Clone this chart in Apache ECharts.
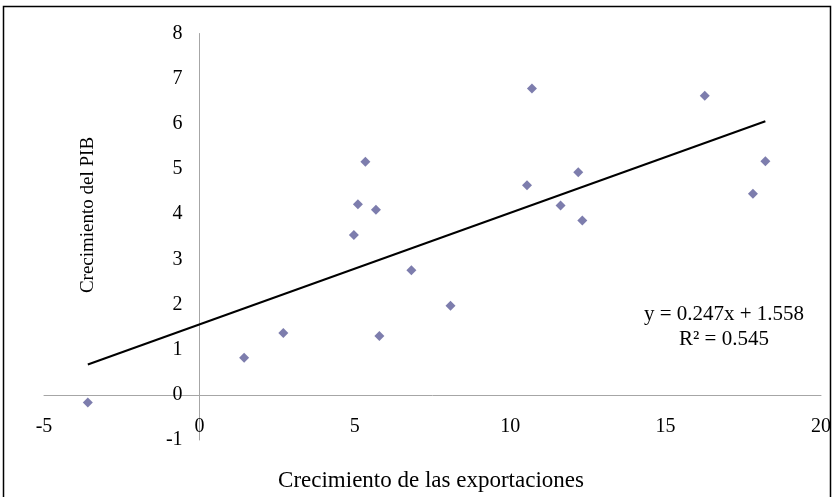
<!DOCTYPE html>
<html>
<head>
<meta charset="utf-8">
<script src="https://cdn.jsdelivr.net/npm/echarts@6/dist/echarts.min.js"></script>
<style>
  html, body { margin: 0; padding: 0; background: #fff; }
  #chart { width: 834px; height: 497px; }
</style>
</head>
<body>
<div id="chart"></div>
<script>
// Export growth (x) vs GDP growth (y), one point per observation
const exportGrowth = [-3.59, 1.44, 2.70, 4.97, 5.10, 5.34, 5.68, 5.79, 6.82, 8.08,
                      10.54, 10.70, 11.62, 12.19, 12.32, 16.26, 17.81, 18.21];
const gdpGrowth    = [-0.17, 0.82, 1.37, 3.54, 4.22, 5.16, 4.10, 1.30, 2.76, 1.97,
                      4.64, 6.78, 4.19, 4.93, 3.86, 6.62, 4.45, 5.17];

// Linear trend fitted to the data
const trendSlope = 0.247;
const trendIntercept = 1.558;
const rSquared = 0.545;

// Axis ranges and tick steps
const xRange = [-5, 20];
const xStep = 5;
const yRange = [-1, 8];
const yStep = 1;

const xAxisTitle = 'Crecimiento de las exportaciones';
const yAxisTitle = 'Crecimiento del PIB';

const points = exportGrowth.map((x, i) => [x, gdpGrowth[i]]);
const xMin = Math.min(...exportGrowth);
const xMax = Math.max(...exportGrowth);
const trendLine = [
  [xMin, trendSlope * xMin + trendIntercept],
  [xMax, trendSlope * xMax + trendIntercept]
];

// Plot area, in pixels
const W = 834, H = 497;
const gridBox = { left: 44, right: 12, top: 33.5, bottom: 57 };
const plotW = W - gridBox.left - gridBox.right;
const plotH = H - gridBox.top - gridBox.bottom;

// Both axes cross at zero: shift each axis (line and labels) inward from the grid edge
const xAxisShift = -((0 - yRange[0]) / (yRange[1] - yRange[0])) * plotH;
const yAxisShift = -((0 - xRange[0]) / (xRange[1] - xRange[0])) * plotW;

const fontFamily = '"Liberation Serif", "Times New Roman", serif';
const chart = echarts.init(document.getElementById('chart'), null, { renderer: 'canvas' });

chart.setOption({
  animation: false,
  backgroundColor: '#ffffff',
  textStyle: { fontFamily: fontFamily },
  grid: Object.assign({ containLabel: false }, gridBox),
  xAxis: {
    type: 'value',
    min: xRange[0], max: xRange[1], interval: xStep,
    offset: xAxisShift,
    axisLine: { show: true, onZero: false, lineStyle: { color: '#a6a6a6', width: 1 } },
    axisTick: { show: false },
    splitLine: { show: false },
    axisLabel: { color: '#000', fontSize: 20, fontFamily: fontFamily, margin: 22 }
  },
  yAxis: {
    type: 'value',
    min: yRange[0], max: yRange[1], interval: yStep,
    offset: yAxisShift,
    axisLine: { show: true, onZero: false, lineStyle: { color: '#a6a6a6', width: 1 } },
    axisTick: { show: false },
    splitLine: { show: false },
    axisLabel: { color: '#000', fontSize: 20, fontFamily: fontFamily, margin: 17 }
  },
  series: [
    {
      type: 'scatter',
      data: points,
      symbol: 'diamond',
      symbolSize: 10,
      itemStyle: { color: '#5c5c99' },
      z: 3
    },
    {
      type: 'line',
      data: trendLine,
      symbol: 'none',
      lineStyle: { color: '#000', width: 2 },
      z: 2
    }
  ],
  graphic: [
    {
      type: 'rect',
      shape: { x: 3.5, y: 6.5, width: 827, height: 500 },
      style: { fill: 'none', stroke: '#000', lineWidth: 1.5 },
      silent: true
    },
    {
      type: 'text',
      x: 431, y: 481,
      style: {
        text: xAxisTitle, font: '23px ' + fontFamily, fill: '#000',
        textAlign: 'center', textVerticalAlign: 'middle'
      }
    },
    {
      type: 'text',
      x: 88, y: 215,
      rotation: Math.PI / 2,
      style: {
        text: yAxisTitle, font: '19px ' + fontFamily, fill: '#000',
        textAlign: 'center', textVerticalAlign: 'middle'
      }
    },
    {
      type: 'text',
      x: 724, y: 314,
      style: {
        text: 'y = ' + trendSlope.toFixed(3) + 'x + ' + trendIntercept.toFixed(3),
        font: '21px ' + fontFamily, fill: '#000',
        textAlign: 'center', textVerticalAlign: 'middle'
      }
    },
    {
      type: 'text',
      x: 724, y: 339,
      style: {
        text: 'R² = ' + rSquared.toFixed(3),
        font: '21px ' + fontFamily, fill: '#000',
        textAlign: 'center', textVerticalAlign: 'middle'
      }
    }
  ]
});
</script>
</body>
</html>
